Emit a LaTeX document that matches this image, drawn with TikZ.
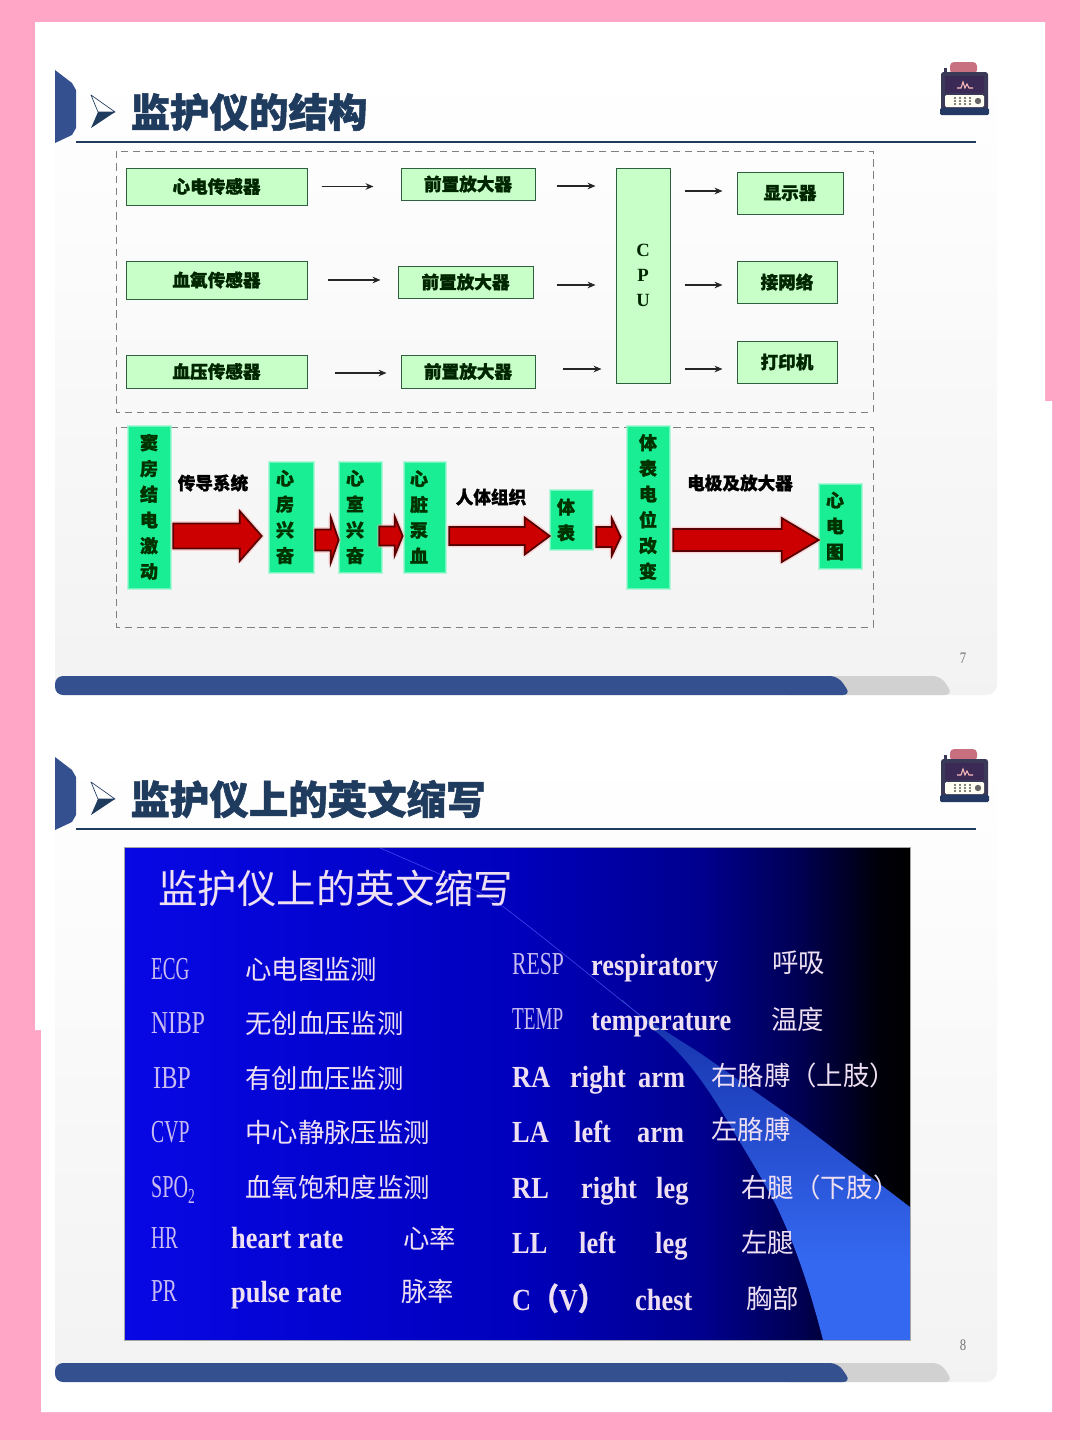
\documentclass[tikz,border=0pt]{standalone}
\usepackage{fontspec}
\setmainfont{Liberation Serif}
\newfontfamily\cjk[BoldFeatures={FakeBold=1.3}]{Noto Sans CJK SC}
\usetikzlibrary{calc,arrows.meta}
\definecolor{pinkbg}{HTML}{FFA6C6}
\definecolor{navy}{HTML}{34508F}
\definecolor{titlecol}{HTML}{1F3B5E}
\definecolor{greenfill}{HTML}{C8FFC8}
\definecolor{greenedge}{HTML}{2F5F3F}
\definecolor{teal}{HTML}{19EE94}
\definecolor{lav}{HTML}{C9BBF2}
\definecolor{pale}{HTML}{EFDFF2}
\definecolor{wedgetop}{HTML}{1530A8}
\definecolor{wedgebot}{HTML}{3468F0}
\definecolor{iconred}{HTML}{C8707F}
\definecolor{iconbody}{HTML}{3A3A58}
\definecolor{iconscreen}{HTML}{3A2A55}
\pgfdeclarehorizontalshading{slidebg}{100bp}{
  rgb(0bp)=(0.03,0.03,0.90);
  rgb(25bp)=(0.03,0.03,0.90);
  rgb(50bp)=(0,0,0.74);
  rgb(62bp)=(0,0,0.55);
  rgb(68bp)=(0,0,0.32);
  rgb(73bp)=(0,0,0.04);
  rgb(75bp)=(0,0,0);
  rgb(100bp)=(0,0,0)}
\newcommand\fs[1]{\fontsize{#1}{#1}\selectfont}
% corner-to-corner box: name, style, x1, y1, x2, y2, text
\newcommand\bx[7]{\node[#2,minimum width={(#5-#3)*0.75pt},minimum height={(#6-#4)*0.75pt}] (#1) at ({(#3+#5)/2},{(#4+#6)/2}) {#7};}
\newcommand\redarrow[5]{%
  \coordinate (P) at #1; \coordinate (Q) at #2;
  \filldraw[redblock] ($(P)+(0,-#3)$) -- ($(Q)+(-#5,-#3)$) -- ($(Q)+(-#5,-#4)$) -- (Q) -- ($(Q)+(-#5,#4)$) -- ($(Q)+(-#5,#3)$) -- ($(P)+(0,#3)$) -- cycle;}
\newcommand\slideframe[1]{%
\begin{scope}[shift={(0,#1)}]
  \shade[top color=white,bottom color=black!5,rounded corners=8] (55,70) rectangle (997,695);
  \fill[black!18,rounded corners=6] (780,676) -- (941,676) -- (953,695) -- (780,695) -- cycle;
  \fill[navy,rounded corners=6] (55,695) -- (55,676) -- (838,676) -- (851,695) -- cycle;
  \fill[navy] (55,70) -- (72,83) -- (76,90) -- (76,128) -- (72,135) -- (55,143) -- cycle;
  \draw[titlecol,line width=0.5pt,fill=white,line join=round] (91,95) -- (115,112) -- (98,112) -- cycle;
  \fill[titlecol] (91,128) -- (115,112) -- (98,112) -- cycle;
  \draw[titlecol,line width=1.2pt] (76,142) -- (976,142);
  % monitor icon
  \fill[iconbody] (944,68) rectangle (947,74);
  \fill[iconred,rounded corners=3] (950,62) rectangle (977,74);
  \fill[iconbody,rounded corners=2] (941,72) rectangle (988,110);
  \fill[iconscreen] (945,76) rectangle (984,93);
  \draw[pink,line width=0.8pt] (957,88) -- (961,88) -- (963,82) -- (965,88) -- (967,84) -- (969,88) -- (973,88);
  \fill[black!5!yellow!5!white,rounded corners=1] (945,95) rectangle (984,107);
  \foreach \kx in {955,960,965,970}{\foreach \ky in {98,101,104}{\fill[black!65] (\kx,\ky) circle (1.1);}}
  \fill[black!60] (978,101) circle (3.2);
  \fill[navy!70!black,rounded corners=1] (940,108) rectangle (989,115);
\end{scope}}
\tikzset{
  x=0.75pt,y=-0.75pt,
  dashbox/.style={draw=black!50,line width=0.75pt,dash pattern=on 5.5pt off 3.7pt},
  gbox/.style={draw=greenedge,line width=0.75pt,fill=greenfill,inner sep=0pt,font=\cjk\bfseries\fs{13.2},text=black!85!green},
  tbox/.style={fill=teal,draw=teal!45,draw opacity=.7,line width=2pt,inner sep=0pt},
  vtext/.style={inner sep=0pt,align=center,font=\cjk\bfseries\fontsize{13.5}{19.3}\selectfont,text=black!80!green},
  blacklabel/.style={inner sep=0pt,font=\cjk\bfseries\fs{13.2},text=black},
  thin arrow/.style={draw=black!85,line width=0.8pt,-{Stealth[length=6pt,width=5pt]}},
  redblock/.style={fill=red!80!black,draw=red!35!black,line width=1.3pt,preaction={draw=red!30,draw opacity=.45,line width=3.5pt,line join=round}},
  pagetitle/.style={inner sep=0pt,font=\cjk\bfseries\fs{29.6},text=titlecol},
  pageno/.style={inner sep=0pt,font=\fs{12},text=black!55,xscale=.8,transform shape},
  abbr/.style={anchor=base west,inner sep=0pt,font=\fs{24},text=lav,xscale=.6,transform shape},
  cnt/.style={anchor=west,inner sep=0pt,font=\cjk\fs{19.8},text=pale},
  eng/.style={anchor=base west,inner sep=0pt,font=\bfseries\fs{23},text=pale,xscale=.86,transform shape},
}
\begin{document}
\begin{tikzpicture}
\useasboundingbox (0,0) rectangle (1080,1440);
\fill[pinkbg] (0,0) rectangle (1080,1440);
\fill[white] (35,22) -- (1045,22) -- (1045,401) -- (1052,401) -- (1052,1412) -- (41,1412) -- (41,1030) -- (35,1030) -- cycle;
\slideframe{0}
\slideframe{687}

% ---- slide 1
\node[pagetitle] (t1) at (249,112) {监护仪的结构};
\draw[dashbox] (116,151) rectangle (873,412);
\draw[dashbox] (116,427) rectangle (873,627);

\bx{s1}{gbox}{126}{168}{307}{205}{心电传感器}
\bx{s2}{gbox}{126}{261}{307}{299}{血氧传感器}
\bx{s3}{gbox}{126}{355}{307}{388}{血压传感器}
\bx{a1}{gbox}{401}{168}{535}{200}{前置放大器}
\bx{a2}{gbox}{398}{266}{533}{298}{前置放大器}
\bx{a3}{gbox}{401}{355}{535}{388}{前置放大器}
\bx{cpu}{gbox,font=\bfseries\fontsize{14}{19}\selectfont,align=center}{616}{168}{670}{383}{C\\P\\U}
\bx{o1}{gbox}{737}{172}{843}{214}{显示器}
\bx{o2}{gbox}{737}{261}{837}{303}{接网络}
\bx{o3}{gbox}{737}{341}{837}{383}{打印机}

\draw[thin arrow] ($(s1.east)+(14,0)$) -- ($(a1.west)+(-27,2.5)$);
\draw[thin arrow] ($(s2.east)+(20,0)$) -- ($(a2.west)+(-17,-2)$);
\draw[thin arrow] ($(s3.east)+(27,1.5)$) -- ($(a3.west)+(-14,1.5)$);
\draw[thin arrow] ($(a1.east)+(21,2)$) -- ($(a1.east -| cpu.west)+(-20,2)$);
\draw[thin arrow] ($(a2.east)+(23,3)$) -- ($(a2.east -| cpu.west)+(-20,3)$);
\draw[thin arrow] ($(a3.east)+(27,-2.5)$) -- ($(a3.east -| cpu.west)+(-14,-2.5)$);
\draw[thin arrow] ($(o1.west -| cpu.east)+(14,-2)$) -- ($(o1.west)+(-14,-2)$);
\draw[thin arrow] ($(o2.west -| cpu.east)+(14,3)$) -- ($(o2.west)+(-14,3)$);
\draw[thin arrow] ($(o3.west -| cpu.east)+(14,7)$) -- ($(o3.west)+(-14,7)$);

\bx{b1}{tbox}{128}{426}{171}{589}{}
\bx{b2}{tbox}{269}{462}{314}{573}{}
\bx{b3}{tbox}{339}{462}{382}{573}{}
\bx{b4}{tbox}{404}{462}{446}{573}{}
\bx{b5}{tbox}{550}{490}{593}{550}{}
\bx{b6}{tbox}{627}{426}{670}{589}{}
\bx{b7}{tbox}{819}{484}{862}{569}{}
\node[vtext] (v1) at (149,507) {窦\\房\\结\\电\\激\\动};
\node[vtext] (v2) at (285,517) {心\\房\\兴\\奋};
\node[vtext] (v3) at (355,517) {心\\室\\兴\\奋};
\node[vtext] (v4) at (419,517) {心\\脏\\泵\\血};
\node[vtext] (v5) at (566,520) {体\\表};
\node[vtext] (v6) at (648,507) {体\\表\\电\\位\\改\\变};
\node[vtext] (v7) at (835,526) {心\\电\\图};

\redarrow{($(b1.east)+(1,28.5)$)}{($(b2.west)+(-6,18.5)$)}{12.5}{25}{22}
\redarrow{($(b2.east)+(0,22.5)$)}{($(b3.west)+(1,22.5)$)}{10.5}{23}{8}
\redarrow{($(b3.east)+(-4,18.5)$)}{($(b4.west)+(0,18.5)$)}{9.5}{19.5}{8}
\redarrow{($(b4.east)+(2,18.5)$)}{($(b5.west)+(1,16)$)}{9}{18.5}{25}
\redarrow{($(b5.east)+(2,17)$)}{($(b6.west)+(-5,29.5)$)}{10}{19}{9}
\redarrow{($(b6.east)+(2,32.5)$)}{($(b7.west)+(1,13.5)$)}{11}{22}{37}

\node[blacklabel] (l1) at (213,483) {传导系统};
\node[blacklabel] (l2) at (491,497) {人体组织};
\node[blacklabel] (l3) at (740,483) {电极及放大器};
\node[pageno] (p7) at (963,658) {7};

% ---- slide 2
\node[pagetitle] (t2) at (308,799) {监护仪上的英文缩写};
\node[pageno] (p8) at (963,1345) {8};

\shade[shading=slidebg] (124,847) rectangle (910,1340);
\begin{scope}
  \clip (378,847) .. controls (430,870) and (480,890) .. (505,908)
     .. controls (560,950) and (620,1000) .. (640,1015) -- (700,1053) -- (800,1123) -- (910,1207)
     -- (910,1340) -- (823,1340) .. controls (805,1270) and (790,1235) .. (777,1207)
     .. controls (755,1165) and (735,1135) .. (730,1125) .. controls (700,1075) and (680,1050) .. (650,1027)
     .. controls (600,975) and (560,945) .. (505,908) .. controls (470,885) and (420,865) .. cycle;
  \shade[top color=wedgetop,bottom color=wedgebot] (360,1000) rectangle (915,1260);
  \fill[wedgebot] (360,1259) rectangle (915,1340);
\end{scope}
\draw[blue!65!white,draw opacity=.7,line width=0.5pt] (378,847) .. controls (430,870) and (480,890) .. (505,908) .. controls (560,950) and (620,1000) .. (640,1015);
\draw[black!35,line width=0.6pt] (124,847) rectangle (910,1340);

\node[inner sep=0pt,anchor=west,font=\cjk\fs{29.6},text=pale] (h) at (158,888) {监护仪上的英文缩写};

\node[abbr] (n1) at (151,979) {ECG};
\node[abbr,xscale=1.23] (n2) at (151,1033) {NIBP};
\node[abbr,xscale=1.26] (n3) at (153,1088) {IBP};
\node[abbr,xscale=1.03] (n4) at (151,1142) {CVP};
\node[abbr,xscale=1.05] (n5) at (151,1197) {SPO\raisebox{-5pt}{\fs{16}2}};
\node[abbr] (n6) at (151,1248) {HR};
\node[abbr,xscale=1.1] (n7) at (151,1301) {PR};
\node[cnt] (c1) at (245,969) {心电图监测};
\node[cnt] (c2) at (245,1023) {无创血压监测};
\node[cnt] (c3) at (245,1078) {有创血压监测};
\node[cnt] (c4) at (245,1132) {中心静脉压监测};
\node[cnt] (c5) at (245,1187) {血氧饱和度监测};
\node[eng] (e6) at (231,1248) {heart rate};
\node[cnt] (c6) at (403,1238) {心率};
\node[eng] (e7) at (231,1302) {pulse rate};
\node[cnt] (c7) at (401,1291) {脉率};

\node[abbr,xscale=1.13] (r1) at (512,974) {RESP};
\node[eng] (f1) at (591,975) {respiratory};
\node[cnt] (g1) at (772,963) {呼吸};
\node[abbr] (r2) at (512,1029) {TEMP};
\node[eng] (f2) at (591,1030) {temperature};
\node[cnt] (g2) at (771,1019) {温度};
\node[eng] (r3) at (512,1087) {RA};
\node[eng] (f3a) at (570,1087) {right};
\node[eng] (f3b) at (638,1087) {arm};
\node[cnt] (g3) at (711,1075) {右胳膊（上肢）};
\node[eng] (r4) at (512,1142) {LA};
\node[eng] (f4a) at (574,1142) {left};
\node[eng] (f4b) at (637,1142) {arm};
\node[cnt] (g4) at (711,1130) {左胳膊};
\node[eng] (r5) at (512,1198) {RL};
\node[eng] (f5a) at (581,1198) {right};
\node[eng] (f5b) at (656,1198) {leg};
\node[cnt] (g5) at (741,1187) {右腿（下肢）};
\node[eng] (r6) at (512,1253) {LL};
\node[eng] (f6a) at (579,1253) {left};
\node[eng] (f6b) at (655,1253) {leg};
\node[cnt] (g6) at (741,1242) {左腿};
\node[eng] (r7) at (512,1310) {C\kern1pt{\cjk（}V{\cjk）}};
\node[eng] (f7) at (635,1310) {chest};
\node[cnt] (g7) at (746,1298) {胸部};
\end{tikzpicture}
\end{document}
